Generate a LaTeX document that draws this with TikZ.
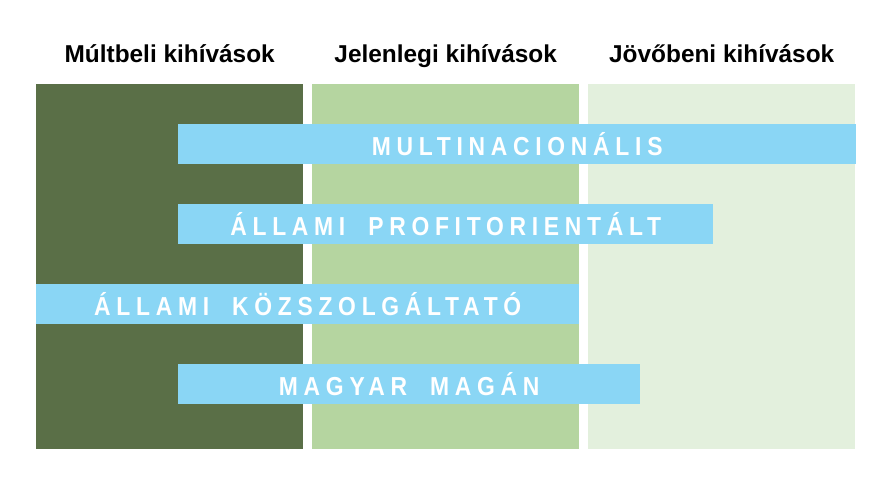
\documentclass[tikz,border=0pt]{standalone}
\usepackage{fontspec}
\setmainfont{Liberation Sans}
\usepackage{tikz}
\usetikzlibrary{positioning}

\definecolor{pastgreen}{RGB}{90,111,71}
\definecolor{nowgreen}{RGB}{181,213,160}
\definecolor{futuregreen}{RGB}{227,240,221}
\definecolor{barblue}{RGB}{138,214,245}

\newfontfamily\barfont[FakeStretch=0.88,LetterSpace=22,WordSpace=1.9]{Liberation Sans Bold}

\begin{document}
\begin{tikzpicture}[x=1pt,y=-1pt,
                    column/.style = {shape=rectangle, inner sep=0pt, minimum width=267pt, minimum height=365pt, anchor=north west},
                    header/.style = {anchor=base, inner sep=0pt, font=\bfseries\fontsize{24.4}{28}\selectfont},
                    bar/.style = {shape=rectangle, fill=barblue, inner sep=0pt, minimum height=40pt, anchor=west,
                                  text=white, font=\barfont\fontsize{26}{30}\selectfont}]

  \useasboundingbox (0,0) rectangle (893,479);

  % columns
  \node[column, fill=pastgreen]   (past)   at (36,84)  {};
  \node[column, fill=nowgreen]    (now)    at (312,84) {};
  \node[column, fill=futuregreen] (future) at (588,84) {};

  \node[header] (pasttitle)   at (past.north   |- 0,62) {Múltbeli kihívások};
  \node[header] (nowtitle)    at (now.north    |- 0,62) {Jelenlegi kihívások};
  \node[header] (futuretitle) at (future.north |- 0,62) {Jövőbeni kihívások};

  % bars
  \node[bar, minimum width=678pt] (multi)   at (178,144) {MULTINACIONÁLIS};
  \node[bar, minimum width=535pt] (profit)  at (178,224) {ÁLLAMI PROFITORIENTÁLT};
  \node[bar, minimum width=543pt] (public)  at (36,304)  {ÁLLAMI KÖZSZOLGÁLTATÓ};
  \node[bar, minimum width=462pt] (private) at (178,384) {MAGYAR MAGÁN};
\end{tikzpicture}
\end{document}
